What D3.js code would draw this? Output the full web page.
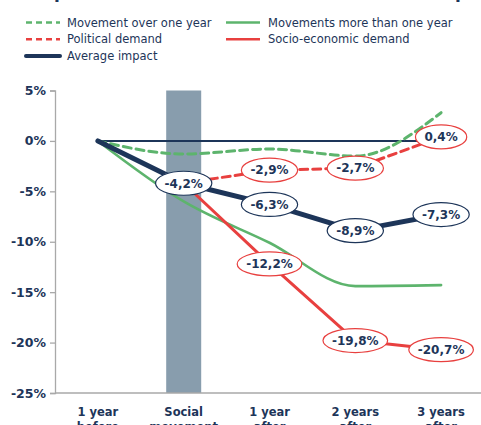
<!DOCTYPE html>
<html>
<head>
<meta charset="utf-8">
<script src="https://cdn.jsdelivr.net/npm/d3@7"></script>
<style>
  body { margin: 0; background: #fff; }
  svg { display: block; font-family: "DejaVu Sans", sans-serif; }
</style>
</head>
<body>
<svg id="chart" width="481" height="425"></svg>
<script>
// values
const categories = ["1 year before", "Social movement", "1 year after", "2 years after", "3 years after"]
const categoryLines = [["1 year", "before"], ["Social", "movement"], ["1 year", "after"], ["2 years", "after"], ["3 years", "after"]]
const yTicks = [5, 0, -5, -10, -15, -20, -25]

const overOneYear = [0, -1.3, -0.8, -1.5, 2.8]
const moreThanOneYear = [0, -6.0, -10.1, -14.4, -14.3]
const politicalDemand = [null, -4.2, -2.9, -2.7, 0.4]
const socioEconomic = [null, -4.2, -12.2, -19.8, -20.7]
const averageImpact = [0, -4.2, -6.3, -8.9, -7.3]
const baseline = [0, 0, 0, 0, 0]

const navy = "#1d3559", green = "#5db46d", red = "#e8403f", grey = "#a9a9a9"

const svg = d3.select("#chart")

const x = d3.scalePoint().domain(categories).range([55, 484]).padding(0.5)
const y = d3.scaleLinear().domain([-25, 5]).range([393, 90.5])

// title (mostly cut off above the frame)
svg.append("text")
  .attr("x", 30).attr("y", -2.5)
  .attr("font-size", 17).attr("font-weight", "bold").attr("fill", navy)
  .text("Impact of social movements on economic impact")

// legend
const legend = [
  { label: "Movement over one year", color: green, dash: "6,4", col: 0, row: 0 },
  { label: "Movements more than one year", color: green, dash: null, col: 1, row: 0 },
  { label: "Political demand", color: red, dash: "6,4", col: 0, row: 1 },
  { label: "Socio-economic demand", color: red, dash: null, col: 1, row: 1 },
  { label: "Average impact", color: navy, dash: null, col: 0, row: 2, thick: true }
]
const lg = svg.append("g").selectAll("g").data(legend).join("g")
  .attr("transform", d => `translate(${d.col ? 226 : 26},${22.5 + d.row * 16.8})`)
lg.append("line")
  .attr("x1", 0).attr("x2", 34)
  .attr("stroke", d => d.color)
  .attr("stroke-width", d => d.thick ? 4 : 2.5)
  .attr("stroke-linecap", d => d.thick ? "round" : "butt")
  .attr("stroke-dasharray", d => d.dash)
lg.append("text")
  .attr("x", d => d.col ? 42 : 41).attr("dy", "0.35em")
  .attr("font-size", 11.5).attr("font-weight", 500).attr("fill", navy)
  .text(d => d.label)

// social movement period band
svg.append("rect")
  .attr("x", x("Social movement") - 17.5)
  .attr("width", 35)
  .attr("y", y(5))
  .attr("height", y(-25) - y(5))
  .attr("fill", "#889dad")

// axes
const yAxis = svg.append("g")
  .attr("transform", "translate(55,0)")
  .call(d3.axisLeft(y).tickValues(yTicks).tickSize(5).tickFormat(d => d + "%"))
yAxis.select(".domain").attr("stroke", grey).attr("stroke-width", 1.3)
yAxis.selectAll(".tick line").attr("stroke", grey).attr("stroke-width", 1.3)
yAxis.selectAll(".tick text")
  .attr("x", -9)
  .attr("font-family", "DejaVu Sans").attr("font-size", 12.5)
  .attr("font-weight", "bold").attr("fill", navy)

svg.append("line")
  .attr("x1", 55).attr("x2", 481)
  .attr("y1", y(-25)).attr("y2", y(-25))
  .attr("stroke", grey).attr("stroke-width", 1.3)

const xl = svg.append("g").selectAll("text").data(categories).join("text")
  .attr("x", d => x(d)).attr("y", 416)
  .attr("text-anchor", "middle")
  .attr("font-size", 11.5).attr("font-weight", "bold").attr("fill", navy)
xl.append("tspan").attr("x", d => x(d)).text((d, i) => categoryLines[i][0])
xl.append("tspan").attr("x", d => x(d)).attr("dy", 15).text((d, i) => categoryLines[i][1])

// lines
const lineOf = (values, curve) => d3.line()
  .defined(d => d != null)
  .x((d, i) => x(categories[i]))
  .y(d => y(d))
  .curve(curve || d3.curveLinear)(values)

const series = [
  { values: baseline, color: navy, width: 2 },
  { values: overOneYear, color: green, width: 3, dash: "8,5", curve: d3.curveMonotoneX },
  { values: moreThanOneYear, color: green, width: 2.6, curve: d3.curveMonotoneX },
  { values: politicalDemand, color: red, width: 3, dash: "8,5" },
  { values: socioEconomic, color: red, width: 3 },
  { values: averageImpact, color: navy, width: 5 }
]
svg.append("g").selectAll("path").data(series).join("path")
  .attr("d", d => lineOf(d.values, d.curve))
  .attr("fill", "none")
  .attr("stroke", d => d.color)
  .attr("stroke-width", d => d.width)
  .attr("stroke-dasharray", d => d.dash || null)
  .attr("stroke-linecap", "round")
  .attr("stroke-linejoin", "round")

// value bubbles
const bubbles = []
averageImpact.forEach((v, i) => { if (i > 0) bubbles.push({ i, v, color: navy }) })
politicalDemand.forEach((v, i) => { if (i > 1) bubbles.push({ i, v, color: red }) })
socioEconomic.forEach((v, i) => { if (i > 1) bubbles.push({ i, v, color: red }) })

const fmt = v => d3.format(".1f")(v).replace(".", ",").replace("−", "-") + "%"
const bg = svg.append("g").selectAll("g").data(bubbles).join("g")
  .attr("transform", d => `translate(${x(categories[d.i])},${y(d.v)})`)
const ellipses = bg.append("ellipse")
  .attr("fill", "#fff").attr("stroke", d => d.color).attr("stroke-width", 1.2)
  .attr("ry", 12)
bg.append("text")
  .attr("text-anchor", "middle").attr("dy", "0.36em")
  .attr("font-size", 12).attr("font-weight", "bold").attr("fill", navy)
  .text(d => fmt(d.v))
  .each(function (d) { d.w = this.getComputedTextLength() })
ellipses.attr("rx", d => d.w / 2 + 9)
</script>
</body>
</html>
